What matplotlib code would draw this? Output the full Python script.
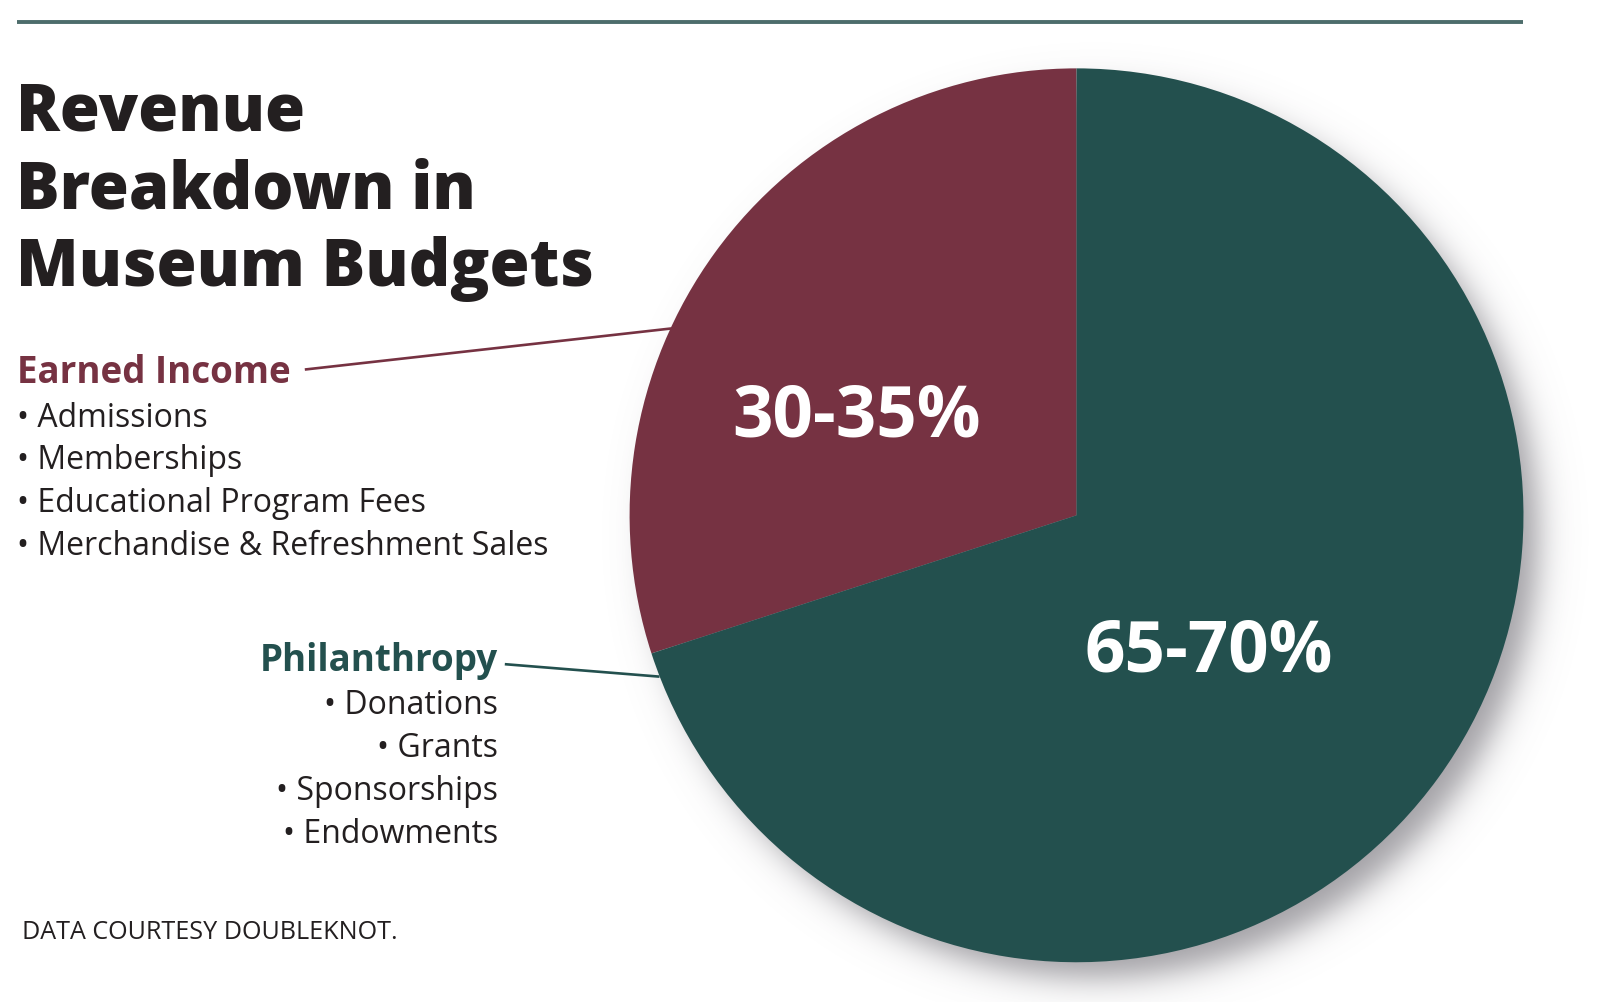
import numpy as np
import matplotlib
matplotlib.use("Agg")
import matplotlib.pyplot as plt

# ---- data ----
categories = ["Earned Income", "Philanthropy"]
values = [30, 70]
slice_labels = ["30-35%", "65-70%"]
earned_items = ["Admissions", "Memberships", "Educational Program Fees",
                "Merchandise & Refreshment Sales"]
phil_items = ["Donations", "Grants", "Sponsorships", "Endowments"]
title_lines = ["Revenue", "Breakdown in", "Museum Budgets"]
source = "DATA COURTESY DOUBLEKNOT."

RED = "#763242"
GREEN = "#23504e"
INK = "#231f20"
W, H = 1600, 1002
S = 1600 / 1568.0

fig = plt.figure(figsize=(W / 100, H / 100), dpi=100)
ax = fig.add_axes([0, 0, 1, 1])

def X(px):
    return px * S

def Y(px):
    return H - px * S

FONT = ["Open Sans", "DejaVu Sans"]

# top rule
ax.plot([X(17), X(1493)], [Y(22), Y(22)], color="#4d6d6b", lw=2.8,
        solid_capstyle="butt")

# pie geometry
cx, cy, r = X(1055), Y(505), 438 * S

# soft shadow
dx, dy, sig = 18, -20, 20
gx = np.arange(cx - r - 110, cx + r + 160)
gy = np.arange(cy - r - 160, cy + r + 110)
XX, YY = np.meshgrid(gx, gy)
d = np.sqrt((XX - cx - dx) ** 2 + (YY - cy - dy) ** 2)
a = 0.62 * 0.5 * (1 - np.tanh((d - r + 4) / sig))
rgba = np.zeros(a.shape + (4,))
rgba[..., 0] = 0.40
rgba[..., 1] = 0.39
rgba[..., 2] = 0.42
rgba[..., 3] = a
ax.imshow(rgba, extent=(gx[0], gx[-1], gy[0], gy[-1]), origin="lower",
          zorder=1, interpolation="bilinear")

wedges, _ = ax.pie(values, colors=[RED, GREEN], startangle=90, counterclock=True,
                   radius=r, center=(cx, cy), frame=True,
                   wedgeprops=dict(linewidth=0, zorder=2))
ax.set_xlim(0, W)
ax.set_ylim(0, H)
ax.set_aspect("equal")
ax.axis("off")

# slice labels
ax.text(X(839), Y(409), slice_labels[0], color="white", fontsize=51, fontweight="bold",
        family=FONT, ha="center", va="center", zorder=5)
ax.text(X(1185), Y(639), slice_labels[1], color="white", fontsize=51, fontweight="bold",
        family=FONT, ha="center", va="center", zorder=5)

# title
for i, line in enumerate(title_lines):
    ax.text(X(16), Y(128 + 76 * i), line, color=INK, fontsize=46.6, fontweight="heavy",
            family=FONT, ha="left", va="baseline")

# earned income block
ax.text(X(17), Y(375), categories[0], color=RED, fontsize=26.5, fontweight="bold",
        family=FONT, ha="left", va="baseline")
for i, it in enumerate(earned_items):
    ax.text(X(17), Y(418 + 42 * i), "\u2022 " + it, color=INK, fontsize=23,
            family=FONT, ha="left", va="baseline")
ax.plot([X(300), X(657)], [Y(362), Y(322)], color=RED, lw=1.9)

# philanthropy block
ax.text(X(488), Y(658), categories[1], color=GREEN, fontsize=26.5, fontweight="bold",
        family=FONT, ha="right", va="baseline")
for i, it in enumerate(phil_items):
    ax.text(X(488), Y(700 + 42 * i), "\u2022 " + it, color=INK, fontsize=23,
            family=FONT, ha="right", va="baseline")
ax.plot([X(496), X(645)], [Y(651), Y(663)], color=GREEN, lw=1.9)

# source
ax.text(X(22), Y(920), source, color=INK, fontsize=18.1, family=FONT,
        ha="left", va="baseline")

fig.savefig("out.png", dpi=100)
